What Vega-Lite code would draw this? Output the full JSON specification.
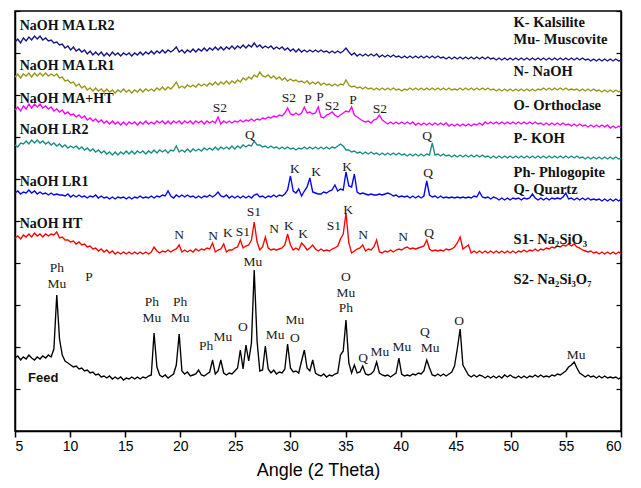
{
"$schema":"https://vega.github.io/schema/vega-lite/v6.json",
"width":606,"height":420,
"autosize":{"type":"none"},
"padding":{"left":15,"top":11,"right":20,"bottom":57},
"background":"white",
"config":{"view":{"stroke":"#000","strokeWidth":1.5},"axis":{"grid":false}},
"datasets":{
"xrd":[
{"x":5,"a":389,"b":354,"c":321,"d":286,"e":238,"f":193,"g":73},
{"x":5.25,"a":392,"b":357,"c":324,"d":284,"e":240,"f":195,"g":75},
{"x":5.51,"a":388,"b":353,"c":320,"d":288,"e":237,"f":192,"g":71},
{"x":5.76,"a":393,"b":357,"c":325,"d":287,"e":239,"f":196,"g":74},
{"x":6.01,"a":390,"b":355,"c":322,"d":290,"e":238,"f":194,"g":72},
{"x":6.26,"a":394,"b":358,"c":327,"d":287,"e":241,"f":197,"g":76},
{"x":6.51,"a":391,"b":354,"c":323,"d":291,"e":238,"f":194,"g":73},
{"x":6.77,"a":395,"b":358,"c":327,"d":288,"e":240,"f":198,"g":71},
{"x":7.02,"a":392,"b":355,"c":324,"d":291,"e":237,"f":195,"g":74},
{"x":7.27,"a":395,"b":358,"c":327,"d":288,"e":239,"f":197,"g":72},
{"x":7.52,"a":391,"b":355,"c":323,"d":290,"e":237,"f":194,"g":75},
{"x":7.78,"a":393,"b":358,"c":325,"d":287,"e":238,"f":197,"g":73},
{"x":8.03,"a":390,"b":355,"c":322,"d":289,"e":236,"f":195,"g":76},
{"x":8.28,"a":391,"b":357,"c":324,"d":286,"e":238,"f":197,"g":74},
{"x":8.53,"a":388,"b":355,"c":320,"d":288,"e":236,"f":196,"g":82},
{"x":8.79,"a":389,"b":357,"c":322,"d":285,"e":237,"f":199,"g":136},
{"x":9.04,"a":386,"b":353,"c":319,"d":287,"e":236,"f":193,"g":92},
{"x":9.29,"a":387,"b":354,"c":321,"d":284,"e":236,"f":194,"g":76},
{"x":9.54,"a":383,"b":350,"c":317,"d":286,"e":235,"f":191,"g":70},
{"x":9.8,"a":385,"b":351,"c":319,"d":283,"e":237,"f":191,"g":68},
{"x":10.05,"a":381,"b":348,"c":316,"d":285,"e":234,"f":189,"g":66},
{"x":10.3,"a":384,"b":349,"c":317,"d":283,"e":236,"f":190,"g":64},
{"x":10.55,"a":380,"b":345,"c":314,"d":285,"e":234,"f":187,"g":65},
{"x":10.81,"a":382,"b":347,"c":316,"d":282,"e":236,"f":189,"g":62},
{"x":11.06,"a":379,"b":343,"c":313,"d":284,"e":234,"f":186,"g":63},
{"x":11.31,"a":381,"b":345,"c":315,"d":281,"e":235,"f":187,"g":60},
{"x":11.56,"a":377,"b":341,"c":311,"d":283,"e":233,"f":184,"g":61},
{"x":11.82,"a":380,"b":343,"c":313,"d":280,"e":235,"f":185,"g":58},
{"x":12.07,"a":376,"b":340,"c":310,"d":282,"e":234,"f":182,"g":59},
{"x":12.32,"a":379,"b":343,"c":312,"d":279,"e":236,"f":183,"g":56},
{"x":12.57,"a":376,"b":340,"c":309,"d":281,"e":233,"f":180,"g":57},
{"x":12.83,"a":379,"b":342,"c":311,"d":278,"e":235,"f":182,"g":54},
{"x":13.08,"a":375,"b":339,"c":308,"d":280,"e":233,"f":179,"g":55},
{"x":13.33,"a":378,"b":342,"c":310,"d":277,"e":234,"f":181,"g":53},
{"x":13.58,"a":375,"b":339,"c":307,"d":279,"e":232,"f":178,"g":55},
{"x":13.84,"a":379,"b":341,"c":310,"d":276,"e":234,"f":180,"g":52},
{"x":14.09,"a":376,"b":338,"c":307,"d":279,"e":232,"f":177,"g":54},
{"x":14.34,"a":378,"b":341,"c":309,"d":276,"e":234,"f":179,"g":52},
{"x":14.59,"a":375,"b":339,"c":306,"d":279,"e":233,"f":177,"g":54},
{"x":14.85,"a":378,"b":342,"c":309,"d":277,"e":234,"f":179,"g":51},
{"x":15.1,"a":376,"b":339,"c":306,"d":280,"e":232,"f":177,"g":53},
{"x":15.35,"a":378,"b":341,"c":309,"d":277,"e":234,"f":179,"g":52},
{"x":15.6,"a":375,"b":338,"c":307,"d":280,"e":232,"f":177,"g":54},
{"x":15.86,"a":378,"b":341,"c":309,"d":277,"e":234,"f":179,"g":52},
{"x":16.11,"a":376,"b":339,"c":306,"d":280,"e":233,"f":177,"g":54},
{"x":16.36,"a":379,"b":342,"c":309,"d":278,"e":235,"f":179,"g":52},
{"x":16.61,"a":376,"b":339,"c":307,"d":280,"e":233,"f":177,"g":54},
{"x":16.87,"a":379,"b":342,"c":310,"d":277,"e":234,"f":179,"g":53},
{"x":17.12,"a":377,"b":340,"c":307,"d":280,"e":233,"f":177,"g":55},
{"x":17.37,"a":380,"b":342,"c":309,"d":278,"e":235,"f":179,"g":56},
{"x":17.62,"a":377,"b":340,"c":307,"d":281,"e":233,"f":184,"g":98},
{"x":17.88,"a":380,"b":343,"c":310,"d":278,"e":235,"f":180,"g":64},
{"x":18.13,"a":378,"b":341,"c":308,"d":281,"e":234,"f":178,"g":56},
{"x":18.38,"a":381,"b":344,"c":310,"d":279,"e":236,"f":180,"g":54},
{"x":18.63,"a":378,"b":341,"c":307,"d":281,"e":235,"f":179,"g":56},
{"x":18.89,"a":381,"b":344,"c":310,"d":278,"e":240,"f":181,"g":53},
{"x":19.14,"a":379,"b":342,"c":307,"d":281,"e":235,"f":179,"g":55},
{"x":19.39,"a":381,"b":345,"c":310,"d":280,"e":233,"f":181,"g":57},
{"x":19.64,"a":384,"b":349,"c":308,"d":285,"e":236,"f":182,"g":66},
{"x":19.9,"a":379,"b":343,"c":310,"d":279,"e":234,"f":186,"g":97},
{"x":20.15,"a":381,"b":345,"c":307,"d":281,"e":236,"f":179,"g":60},
{"x":20.4,"a":378,"b":343,"c":310,"d":279,"e":234,"f":181,"g":57},
{"x":20.65,"a":381,"b":346,"c":308,"d":282,"e":236,"f":179,"g":59},
{"x":20.91,"a":379,"b":344,"c":310,"d":279,"e":234,"f":181,"g":55},
{"x":21.16,"a":382,"b":346,"c":307,"d":282,"e":235,"f":179,"g":56},
{"x":21.41,"a":379,"b":344,"c":310,"d":280,"e":233,"f":182,"g":57},
{"x":21.66,"a":382,"b":347,"c":308,"d":282,"e":235,"f":180,"g":61},
{"x":21.92,"a":380,"b":345,"c":310,"d":280,"e":233,"f":182,"g":56},
{"x":22.17,"a":383,"b":347,"c":307,"d":283,"e":235,"f":181,"g":55},
{"x":22.42,"a":380,"b":345,"c":310,"d":281,"e":234,"f":183,"g":57},
{"x":22.67,"a":383,"b":348,"c":308,"d":283,"e":236,"f":182,"g":59},
{"x":22.93,"a":381,"b":346,"c":310,"d":281,"e":234,"f":188,"g":71},
{"x":23.18,"a":384,"b":349,"c":308,"d":284,"e":236,"f":179,"g":57},
{"x":23.43,"a":381,"b":346,"c":314,"d":281,"e":239,"f":181,"g":60},
{"x":23.68,"a":384,"b":349,"c":307,"d":284,"e":235,"f":182,"g":71},
{"x":23.94,"a":381,"b":347,"c":310,"d":282,"e":234,"f":187,"g":58},
{"x":24.19,"a":384,"b":350,"c":308,"d":284,"e":236,"f":179,"g":56},
{"x":24.44,"a":382,"b":347,"c":310,"d":282,"e":233,"f":181,"g":58},
{"x":24.69,"a":385,"b":350,"c":308,"d":285,"e":235,"f":181,"g":57},
{"x":24.95,"a":382,"b":348,"c":310,"d":282,"e":233,"f":183,"g":60},
{"x":25.2,"a":385,"b":351,"c":309,"d":285,"e":235,"f":184,"g":63},
{"x":25.45,"a":383,"b":349,"c":311,"d":283,"e":233,"f":191,"g":81},
{"x":25.7,"a":386,"b":353,"c":309,"d":286,"e":235,"f":183,"g":62},
{"x":25.96,"a":383,"b":351,"c":311,"d":284,"e":233,"f":185,"g":86},
{"x":26.21,"a":386,"b":354,"c":310,"d":286,"e":235,"f":186,"g":70},
{"x":26.46,"a":384,"b":352,"c":312,"d":285,"e":233,"f":191,"g":88},
{"x":26.71,"a":388,"b":356,"c":310,"d":290,"e":236,"f":209,"g":161},
{"x":26.97,"a":384,"b":354,"c":312,"d":286,"e":237,"f":189,"g":90},
{"x":27.22,"a":386,"b":359,"c":311,"d":286,"e":234,"f":181,"g":60},
{"x":27.47,"a":383,"b":355,"c":313,"d":284,"e":235,"f":184,"g":61},
{"x":27.72,"a":385,"b":354,"c":312,"d":285,"e":233,"f":194,"g":85},
{"x":27.98,"a":383,"b":356,"c":314,"d":283,"e":235,"f":183,"g":62},
{"x":28.23,"a":385,"b":353,"c":313,"d":285,"e":234,"f":181,"g":58},
{"x":28.48,"a":382,"b":355,"c":315,"d":283,"e":236,"f":182,"g":61},
{"x":28.73,"a":384,"b":352,"c":314,"d":284,"e":234,"f":181,"g":57},
{"x":28.99,"a":382,"b":354,"c":316,"d":282,"e":236,"f":182,"g":59},
{"x":29.24,"a":384,"b":351,"c":315,"d":284,"e":235,"f":183,"g":58},
{"x":29.49,"a":381,"b":353,"c":318,"d":282,"e":237,"f":186,"g":62},
{"x":29.74,"a":383,"b":350,"c":323,"d":284,"e":241,"f":197,"g":87},
{"x":30,"a":380,"b":352,"c":317,"d":282,"e":255,"f":186,"g":63},
{"x":30.25,"a":382,"b":350,"c":316,"d":283,"e":240,"f":181,"g":59},
{"x":30.5,"a":379,"b":351,"c":318,"d":281,"e":238,"f":183,"g":60},
{"x":30.75,"a":382,"b":349,"c":316,"d":283,"e":242,"f":181,"g":58},
{"x":31.01,"a":379,"b":350,"c":318,"d":282,"e":235,"f":188,"g":70},
{"x":31.26,"a":381,"b":348,"c":324,"d":284,"e":240,"f":185,"g":81},
{"x":31.51,"a":379,"b":350,"c":318,"d":282,"e":244,"f":181,"g":63},
{"x":31.76,"a":381,"b":347,"c":319,"d":284,"e":253,"f":183,"g":60},
{"x":32.02,"a":379,"b":349,"c":317,"d":282,"e":239,"f":186,"g":71},
{"x":32.27,"a":381,"b":347,"c":318,"d":284,"e":238,"f":182,"g":58},
{"x":32.52,"a":379,"b":349,"c":324,"d":282,"e":237,"f":180,"g":56},
{"x":32.77,"a":381,"b":346,"c":314,"d":284,"e":237,"f":182,"g":55},
{"x":33.02,"a":379,"b":348,"c":313,"d":282,"e":239,"f":180,"g":57},
{"x":33.28,"a":380,"b":346,"c":316,"d":284,"e":238,"f":181,"g":54},
{"x":33.53,"a":378,"b":347,"c":317,"d":282,"e":240,"f":180,"g":56},
{"x":33.78,"a":380,"b":345,"c":319,"d":284,"e":241,"f":182,"g":55},
{"x":34.03,"a":378,"b":347,"c":316,"d":283,"e":246,"f":183,"g":57},
{"x":34.29,"a":380,"b":345,"c":314,"d":285,"e":240,"f":185,"g":58},
{"x":34.54,"a":378,"b":347,"c":316,"d":287,"e":242,"f":192,"g":76},
{"x":34.79,"a":380,"b":346,"c":318,"d":285,"e":241,"f":197,"g":80},
{"x":35.04,"a":383,"b":351,"c":320,"d":281,"e":259,"f":218,"g":111},
{"x":35.3,"a":379,"b":346,"c":319,"d":281,"e":245,"f":188,"g":68},
{"x":35.55,"a":376,"b":344,"c":324,"d":279,"e":244,"f":178,"g":58},
{"x":35.8,"a":378,"b":345,"c":316,"d":280,"e":257,"f":180,"g":66},
{"x":36.05,"a":375,"b":343,"c":314,"d":278,"e":239,"f":182,"g":58},
{"x":36.31,"a":377,"b":344,"c":312,"d":279,"e":237,"f":183,"g":59},
{"x":36.56,"a":375,"b":342,"c":310,"d":277,"e":238,"f":186,"g":65},
{"x":36.81,"a":377,"b":344,"c":309,"d":279,"e":237,"f":180,"g":57},
{"x":37.06,"a":375,"b":342,"c":310,"d":277,"e":236,"f":182,"g":56},
{"x":37.32,"a":377,"b":343,"c":308,"d":279,"e":237,"f":181,"g":57},
{"x":37.57,"a":375,"b":341,"c":311,"d":277,"e":236,"f":184,"g":60},
{"x":37.82,"a":377,"b":343,"c":312,"d":278,"e":236,"f":191,"g":69},
{"x":38.07,"a":374,"b":341,"c":316,"d":276,"e":237,"f":179,"g":58},
{"x":38.33,"a":376,"b":343,"c":311,"d":278,"e":236,"f":178,"g":56},
{"x":38.58,"a":374,"b":341,"c":309,"d":276,"e":237,"f":180,"g":55},
{"x":38.83,"a":376,"b":343,"c":307,"d":278,"e":238,"f":179,"g":56},
{"x":39.08,"a":374,"b":341,"c":309,"d":276,"e":237,"f":181,"g":54},
{"x":39.34,"a":376,"b":343,"c":307,"d":278,"e":235,"f":179,"g":56},
{"x":39.59,"a":374,"b":341,"c":309,"d":276,"e":236,"f":181,"g":58},
{"x":39.84,"a":375,"b":342,"c":307,"d":278,"e":234,"f":182,"g":73},
{"x":40.09,"a":373,"b":340,"c":309,"d":276,"e":235,"f":181,"g":57},
{"x":40.35,"a":375,"b":342,"c":307,"d":277,"e":234,"f":183,"g":55},
{"x":40.6,"a":373,"b":341,"c":309,"d":275,"e":235,"f":184,"g":56},
{"x":40.85,"a":375,"b":343,"c":307,"d":277,"e":233,"f":182,"g":55},
{"x":41.1,"a":373,"b":341,"c":309,"d":275,"e":235,"f":183,"g":57},
{"x":41.36,"a":375,"b":343,"c":306,"d":277,"e":233,"f":182,"g":56},
{"x":41.61,"a":373,"b":341,"c":308,"d":275,"e":235,"f":183,"g":58},
{"x":41.86,"a":375,"b":343,"c":306,"d":277,"e":233,"f":184,"g":57},
{"x":42.11,"a":373,"b":341,"c":308,"d":275,"e":235,"f":185,"g":60},
{"x":42.37,"a":375,"b":343,"c":306,"d":277,"e":250,"f":191,"g":71},
{"x":42.62,"a":373,"b":341,"c":308,"d":276,"e":236,"f":182,"g":63},
{"x":42.87,"a":375,"b":343,"c":306,"d":288,"e":234,"f":180,"g":56},
{"x":43.12,"a":373,"b":341,"c":308,"d":276,"e":235,"f":181,"g":55},
{"x":43.38,"a":375,"b":343,"c":306,"d":277,"e":233,"f":180,"g":57},
{"x":43.63,"a":373,"b":341,"c":308,"d":275,"e":235,"f":181,"g":55},
{"x":43.88,"a":374,"b":343,"c":306,"d":277,"e":233,"f":180,"g":57},
{"x":44.13,"a":372,"b":341,"c":308,"d":275,"e":234,"f":182,"g":55},
{"x":44.39,"a":374,"b":343,"c":305,"d":276,"e":233,"f":181,"g":57},
{"x":44.64,"a":372,"b":341,"c":307,"d":274,"e":234,"f":182,"g":59},
{"x":44.89,"a":374,"b":342,"c":305,"d":276,"e":233,"f":184,"g":65},
{"x":45.14,"a":372,"b":341,"c":307,"d":274,"e":234,"f":188,"g":82},
{"x":45.4,"a":374,"b":343,"c":305,"d":276,"e":233,"f":194,"g":102},
{"x":45.65,"a":372,"b":341,"c":307,"d":274,"e":234,"f":182,"g":66},
{"x":45.9,"a":374,"b":343,"c":305,"d":276,"e":233,"f":184,"g":61},
{"x":46.15,"a":372,"b":341,"c":307,"d":274,"e":234,"f":186,"g":56},
{"x":46.41,"a":374,"b":343,"c":305,"d":276,"e":233,"f":178,"g":54},
{"x":46.66,"a":372,"b":341,"c":307,"d":274,"e":235,"f":180,"g":56},
{"x":46.91,"a":374,"b":343,"c":306,"d":276,"e":234,"f":178,"g":54},
{"x":47.16,"a":372,"b":341,"c":308,"d":274,"e":239,"f":180,"g":56},
{"x":47.42,"a":374,"b":343,"c":306,"d":276,"e":234,"f":178,"g":55},
{"x":47.67,"a":372,"b":341,"c":309,"d":274,"e":233,"f":180,"g":53},
{"x":47.92,"a":374,"b":343,"c":307,"d":275,"e":234,"f":178,"g":55},
{"x":48.17,"a":372,"b":341,"c":309,"d":273,"e":232,"f":180,"g":53},
{"x":48.43,"a":373,"b":342,"c":307,"d":275,"e":234,"f":178,"g":55},
{"x":48.68,"a":371,"b":340,"c":309,"d":273,"e":233,"f":180,"g":53},
{"x":48.93,"a":373,"b":342,"c":307,"d":275,"e":231,"f":178,"g":55},
{"x":49.18,"a":371,"b":340,"c":309,"d":273,"e":233,"f":180,"g":53},
{"x":49.44,"a":373,"b":342,"c":307,"d":275,"e":231,"f":178,"g":56},
{"x":49.69,"a":371,"b":340,"c":309,"d":273,"e":233,"f":180,"g":54},
{"x":49.94,"a":373,"b":342,"c":307,"d":275,"e":231,"f":178,"g":56},
{"x":50.19,"a":371,"b":340,"c":309,"d":273,"e":233,"f":180,"g":54},
{"x":50.45,"a":373,"b":342,"c":307,"d":275,"e":232,"f":178,"g":53},
{"x":50.7,"a":371,"b":340,"c":309,"d":273,"e":233,"f":180,"g":55},
{"x":50.95,"a":373,"b":342,"c":307,"d":275,"e":231,"f":179,"g":53},
{"x":51.2,"a":371,"b":340,"c":309,"d":273,"e":233,"f":181,"g":55},
{"x":51.46,"a":373,"b":342,"c":307,"d":275,"e":232,"f":179,"g":53},
{"x":51.71,"a":371,"b":340,"c":309,"d":273,"e":233,"f":181,"g":55},
{"x":51.96,"a":373,"b":342,"c":307,"d":275,"e":237,"f":180,"g":54},
{"x":52.21,"a":371,"b":340,"c":309,"d":273,"e":233,"f":182,"g":56},
{"x":52.47,"a":373,"b":342,"c":307,"d":275,"e":231,"f":180,"g":54},
{"x":52.72,"a":371,"b":341,"c":308,"d":273,"e":233,"f":182,"g":56},
{"x":52.97,"a":373,"b":343,"c":306,"d":275,"e":231,"f":181,"g":54},
{"x":53.22,"a":371,"b":341,"c":308,"d":273,"e":233,"f":183,"g":55},
{"x":53.48,"a":373,"b":343,"c":306,"d":275,"e":231,"f":182,"g":54},
{"x":53.73,"a":371,"b":341,"c":308,"d":273,"e":233,"f":184,"g":56},
{"x":53.98,"a":373,"b":343,"c":306,"d":275,"e":232,"f":183,"g":55},
{"x":54.23,"a":371,"b":341,"c":308,"d":273,"e":233,"f":185,"g":57},
{"x":54.49,"a":373,"b":343,"c":306,"d":275,"e":232,"f":184,"g":56},
{"x":54.74,"a":371,"b":341,"c":308,"d":273,"e":234,"f":186,"g":58},
{"x":54.99,"a":373,"b":343,"c":306,"d":275,"e":238,"f":185,"g":60},
{"x":55.24,"a":371,"b":341,"c":307,"d":273,"e":232,"f":187,"g":64},
{"x":55.5,"a":373,"b":342,"c":305,"d":275,"e":233,"f":185,"g":66},
{"x":55.75,"a":371,"b":341,"c":307,"d":273,"e":231,"f":187,"g":69},
{"x":56,"a":373,"b":342,"c":305,"d":275,"e":233,"f":184,"g":63},
{"x":56.25,"a":371,"b":340,"c":307,"d":273,"e":231,"f":183,"g":58},
{"x":56.51,"a":373,"b":342,"c":305,"d":274,"e":233,"f":181,"g":56},
{"x":56.76,"a":371,"b":340,"c":306,"d":272,"e":231,"f":180,"g":54},
{"x":57.01,"a":372,"b":342,"c":304,"d":274,"e":233,"f":179,"g":56},
{"x":57.26,"a":370,"b":340,"c":306,"d":272,"e":231,"f":180,"g":54},
{"x":57.51,"a":372,"b":342,"c":304,"d":274,"e":232,"f":178,"g":55},
{"x":57.77,"a":370,"b":340,"c":306,"d":272,"e":231,"f":179,"g":53},
{"x":58.02,"a":372,"b":341,"c":304,"d":274,"e":232,"f":177,"g":55},
{"x":58.27,"a":370,"b":339,"c":306,"d":272,"e":230,"f":179,"g":53},
{"x":58.52,"a":372,"b":341,"c":304,"d":274,"e":232,"f":177,"g":55},
{"x":58.78,"a":370,"b":339,"c":306,"d":272,"e":230,"f":179,"g":53},
{"x":59.03,"a":372,"b":341,"c":303,"d":274,"e":232,"f":177,"g":54},
{"x":59.28,"a":370,"b":339,"c":305,"d":272,"e":230,"f":179,"g":53},
{"x":59.53,"a":372,"b":341,"c":303,"d":274,"e":232,"f":177,"g":54},
{"x":59.79,"a":370,"b":339,"c":305,"d":272,"e":230,"f":179,"g":52},
{"x":60.04,"a":371,"b":341,"c":303,"d":273,"e":232,"f":177,"g":54}
],
"series":[
{"x":5.42,"y":405,"t":"NaOH MA LR2"},
{"x":5.42,"y":365,"t":"NaOH MA LR1"},
{"x":5.42,"y":332,"t":"NaOH MA+HT"},
{"x":5.42,"y":301,"t":"NaOH LR2"},
{"x":5.42,"y":249,"t":"NaOH LR1"},
{"x":5.42,"y":207,"t":"NaOH HT"}
],
"feed":[{"x":6.18,"y":53,"t":"Feed"}],
"key":[
{"x":50.25,"y":408,"t":"K- Kalsilite"},
{"x":50.25,"y":391,"t":"Mu- Muscovite"},
{"x":50.25,"y":359,"t":"N- NaOH"},
{"x":50.25,"y":325,"t":"O- Orthoclase"},
{"x":50.25,"y":292,"t":"P- KOH"},
{"x":50.25,"y":258,"t":"Ph- Phlogopite"},
{"x":50.25,"y":241,"t":"Q- Quartz"},
{"x":50.25,"y":191,"t":"S1- Na₂SiO₃"},
{"x":50.25,"y":151,"t":"S2- Na₂Si₃O₇"}
],
"peaks":[
{"x":23.6,"y":323,"t":"S2"},
{"x":29.86,"y":333,"t":"S2"},
{"x":31.59,"y":332,"t":"P"},
{"x":32.68,"y":334,"t":"P"},
{"x":33.77,"y":325,"t":"S2"},
{"x":35.68,"y":331,"t":"P"},
{"x":38.12,"y":322,"t":"S2"},
{"x":26.31,"y":296,"t":"Q"},
{"x":42.4,"y":295,"t":"Q"},
{"x":30.41,"y":262,"t":"K"},
{"x":32.32,"y":259,"t":"K"},
{"x":35.14,"y":264,"t":"K"},
{"x":42.49,"y":258,"t":"Q"},
{"x":19.89,"y":196,"t":"N"},
{"x":22.98,"y":195,"t":"N"},
{"x":24.33,"y":198,"t":"K"},
{"x":25.69,"y":199,"t":"S1"},
{"x":26.69,"y":219,"t":"S1"},
{"x":28.51,"y":202,"t":"N"},
{"x":29.86,"y":205,"t":"K"},
{"x":31.14,"y":197,"t":"K"},
{"x":33.95,"y":205,"t":"S1"},
{"x":35.23,"y":221,"t":"K"},
{"x":36.59,"y":196,"t":"N"},
{"x":40.22,"y":194,"t":"N"},
{"x":42.58,"y":198,"t":"Q"},
{"x":8.81,"y":163,"t":"Ph"},
{"x":8.81,"y":147,"t":"Mu"},
{"x":11.72,"y":154,"t":"P"},
{"x":17.43,"y":129,"t":"Ph"},
{"x":17.43,"y":113,"t":"Mu"},
{"x":19.98,"y":129,"t":"Ph"},
{"x":19.98,"y":113,"t":"Mu"},
{"x":22.34,"y":85,"t":"Ph"},
{"x":23.87,"y":94,"t":"Mu"},
{"x":25.69,"y":104,"t":"O"},
{"x":26.6,"y":169,"t":"Mu"},
{"x":28.6,"y":96,"t":"Mu"},
{"x":30.41,"y":93,"t":"O"},
{"x":30.41,"y":111,"t":"Mu"},
{"x":35.04,"y":154,"t":"O"},
{"x":35.04,"y":138,"t":"Mu"},
{"x":35.04,"y":123,"t":"Ph"},
{"x":36.59,"y":73,"t":"Q"},
{"x":38.12,"y":79,"t":"Mu"},
{"x":40.12,"y":84,"t":"Mu"},
{"x":42.21,"y":99,"t":"Q"},
{"x":42.67,"y":83,"t":"Mu"},
{"x":45.3,"y":110,"t":"O"},
{"x":55.92,"y":76,"t":"Mu"}
]
},
"resolve":{"axis":{"y":"independent"}},
"layer":[
{
"data":{"name":"xrd"},
"transform":[{"fold":["a","b","c","d","e","f","g"],"as":["s","v"]}],
"mark":{"type":"line","strokeWidth":1.35,"interpolate":"linear","clip":true},
"encoding":{
"x":{"field":"x","type":"quantitative","scale":{"domain":[5,60],"nice":false,"zero":false},
"axis":{"title":"Angle (2 Theta)","values":[5,10,15,20,25,30,35,40,45,50,55,60],"tickSize":6,"tickWidth":1.5,"tickColor":"#000","domainColor":"#000","domainWidth":1.5,"labelFont":"Liberation Sans","labelFontSize":14,"labelColor":"#000","labelPadding":2,"titleFont":"Liberation Sans","titleFontSize":18,"titleFontWeight":"normal","titleColor":"#000","titlePadding":8,"grid":false}},
"y":{"field":"v","type":"quantitative","scale":{"domain":[0,420],"nice":false,"zero":false},
"axis":{"orient":"left","title":null,"labels":false,"values":[0,42,84,126,168,210,252,294,336,378,420],"tickSize":-5,"tickWidth":1.2,"tickColor":"#000","domainColor":"#000","domainWidth":1.5,"grid":false}},
"color":{"field":"s","type":"nominal","scale":{"domain":["a","b","c","d","e","f","g"],"range":["#141482","#969618","#ff00ff","#168c84","#0000ff","#ff0000","#000000"]},"legend":null},
"order":{"field":"x","type":"quantitative"}
}
},
{
"data":{"name":"peaks"},
"mark":{"type":"text","font":"Liberation Serif","fontSize":13.5,"align":"center","baseline":"middle","color":"#1a1a1a"},
"encoding":{
"x":{"field":"x","type":"quantitative"},
"y":{"field":"y","type":"quantitative","axis":{"orient":"right","title":null,"labels":false,"values":[0,42,84,126,168,210,252,294,336,378,420],"tickSize":-5,"tickWidth":1.2,"tickColor":"#000","domainColor":"#000","domainWidth":1.5,"grid":false}},
"text":{"field":"t"}
}
},
{
"data":{"name":"series"},
"mark":{"type":"text","font":"Liberation Serif","fontSize":14,"fontWeight":"bold","align":"left","baseline":"middle","color":"#111"},
"encoding":{
"x":{"field":"x","type":"quantitative"},
"y":{"field":"y","type":"quantitative","axis":null},
"text":{"field":"t"}
}
},
{
"data":{"name":"key"},
"mark":{"type":"text","font":"Liberation Serif","fontSize":14.5,"fontWeight":"bold","align":"left","baseline":"middle","color":"#111"},
"encoding":{
"x":{"field":"x","type":"quantitative"},
"y":{"field":"y","type":"quantitative","axis":null},
"text":{"field":"t"}
}
},
{
"data":{"name":"feed"},
"mark":{"type":"text","font":"Liberation Sans","fontSize":13,"fontWeight":"bold","align":"left","baseline":"middle","color":"#111"},
"encoding":{
"x":{"field":"x","type":"quantitative"},
"y":{"field":"y","type":"quantitative","axis":null},
"text":{"field":"t"}
}
}
]
}
